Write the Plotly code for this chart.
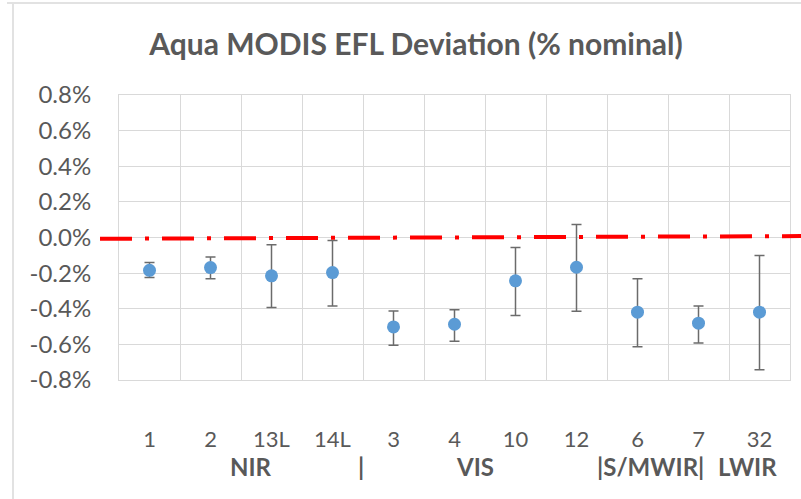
import plotly.graph_objects as go

# ---- data ----
bands = ["1", "2", "13L", "14L", "3", "4", "10", "12", "6", "7", "32"]
deviation = [-0.184, -0.169, -0.215, -0.197, -0.502, -0.487, -0.243, -0.167, -0.419, -0.481, -0.419]
err_upper = [0.044, 0.060, 0.175, 0.180, 0.090, 0.081, 0.187, 0.240, 0.187, 0.097, 0.318]
err_lower = [0.041, 0.063, 0.178, 0.187, 0.103, 0.095, 0.195, 0.247, 0.195, 0.111, 0.324]

ytick_vals = [0.8, 0.6, 0.4, 0.2, 0.0, -0.2, -0.4, -0.6, -0.8]
ytick_text = ["0.8%", "0.6%", "0.4%", "0.2%", "0.0%", "-0.2%", "-0.4%", "-0.6%", "-0.8%"]

group_labels = ["NIR", "|", "VIS", "|S/MWIR|", "LWIR"]
group_pos = [1.66, 3.47, 5.34, 8.22, 9.81]  # category index positions

ref_x = [0, 1]
ref_y = [-0.007, 0.008]

GRID = "#d9d9d9"
TXT = "#595959"
FONT = "Lato"

fig = go.Figure()

fig.add_trace(go.Scatter(
    x=bands, y=deviation, mode="markers",
    marker=dict(color="#5B9BD5", size=13),
    error_y=dict(type="data", symmetric=False, array=err_upper, arrayminus=err_lower,
                 color="#6b6b6b", thickness=1.5, width=5),
    xaxis="x", yaxis="y", showlegend=False,
))

fig.add_trace(go.Scatter(
    x=ref_x, y=ref_y, mode="lines",
    line=dict(color="#ff0000", width=4, dash="32px,13px,4px,13px"),
    xaxis="x2", yaxis="y2", showlegend=False,
))

dom_x = [19 / 701, 690 / 701]

fig.update_layout(
    width=801, height=499,
    margin=dict(l=100, r=0, t=95, b=119),
    paper_bgcolor="white",
    plot_bgcolor="rgba(0,0,0,0)",
    font=dict(family=FONT, color=TXT, size=24),
    title=dict(text="<b>Aqua MODIS EFL Deviation (% nominal)</b>",
               x=416 / 801, xref="container", xanchor="center",
               y=1 - 44 / 499, yref="container", yanchor="middle",
               font=dict(family=FONT, size=30, color=TXT)),
    xaxis=dict(domain=dom_x, type="category", range=[-0.5, 10.5],
               tickson="boundaries", showgrid=True, gridcolor=GRID, gridwidth=1,
               showline=True, linecolor=GRID, mirror=True, ticks="",
               ticklabelstandoff=40, tickfont=dict(size=22, color=TXT),
               zeroline=False, fixedrange=True),
    yaxis=dict(range=[-0.8, 0.8], tickvals=ytick_vals, ticktext=ytick_text,
               showgrid=True, gridcolor=GRID, gridwidth=1,
               showline=True, linecolor=GRID, mirror=True, ticks="",
               zeroline=True, zerolinecolor=GRID, zerolinewidth=1,
               ticklabelstandoff=22, tickfont=dict(size=24, color=TXT)),
    xaxis2=dict(domain=[0, 1], range=[0, 1], anchor="y2", visible=False, fixedrange=True),
    yaxis2=dict(domain=[0, 1], range=[-0.8, 0.8], anchor="x2", visible=False),
)

for lab, pos in zip(group_labels, group_pos):
    fig.add_annotation(x=pos, y=-0.8, xref="x", yref="y", text=f"<b>{lab}</b>",
                       showarrow=False, yanchor="middle", yshift=-86,
                       font=dict(family=FONT, size=24, color=TXT))

# chart frame (left and top edges)
fig.add_shape(type="line", xref="paper", yref="paper",
              x0=(13 - 100) / 701, x1=(13 - 100) / 701, y0=(380 - 4) / 285, y1=(380 - 499) / 285,
              line=dict(color=GRID, width=1.5))
fig.add_shape(type="line", xref="paper", yref="paper",
              x0=(7 - 100) / 701, x1=1.0, y0=(380 - 3) / 285, y1=(380 - 3) / 285,
              line=dict(color=GRID, width=1.5))

fig.write_html("out.html", config={"displayModeBar": False},
               post_script="document.body.style.margin='0px';document.body.style.overflow='hidden';")
